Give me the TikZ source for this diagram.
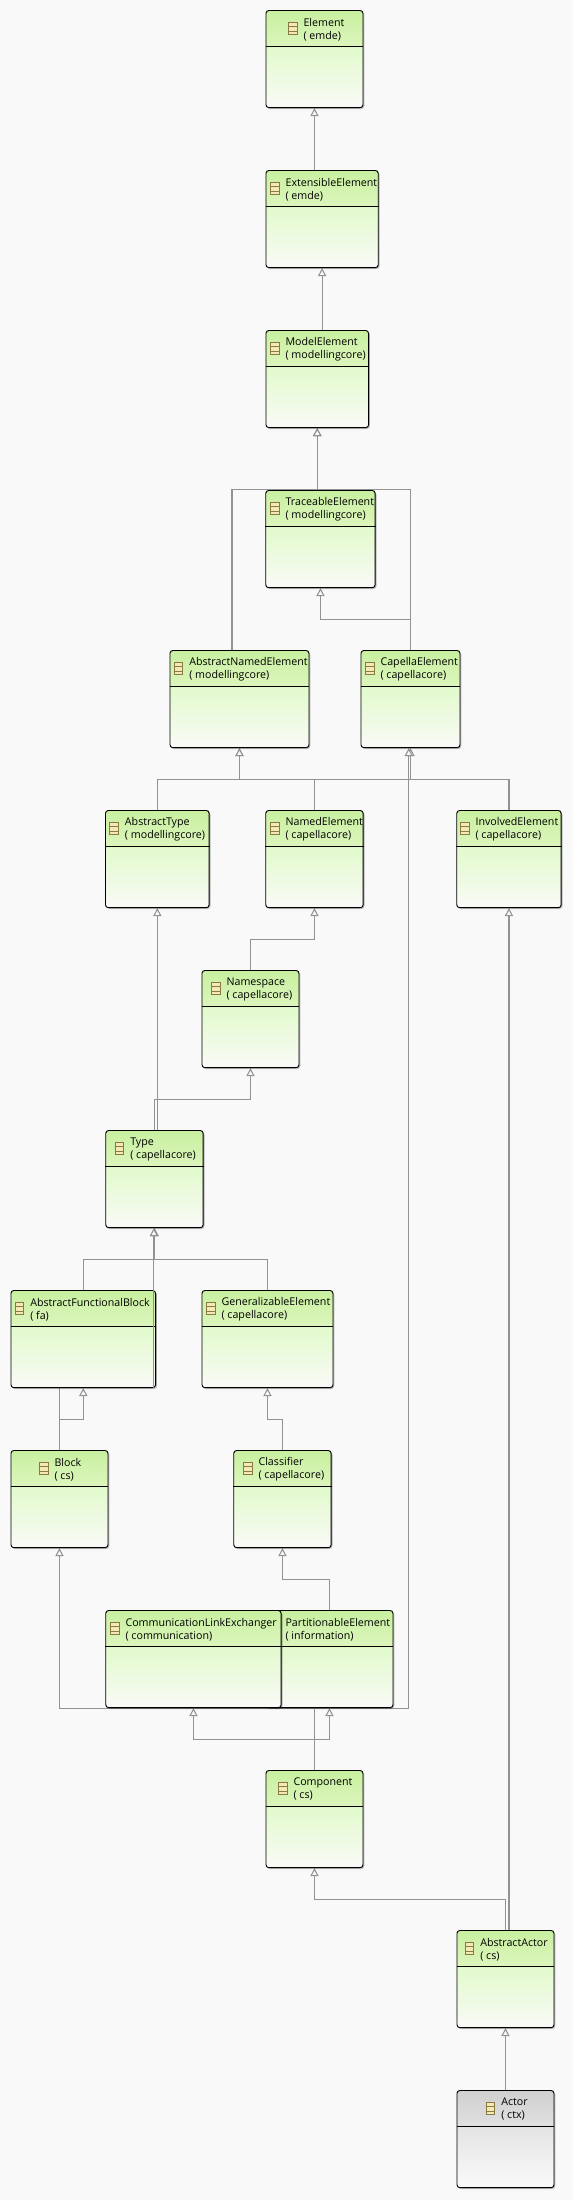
\documentclass[tikz,border=0pt]{standalone}
\usepackage{fontspec}
\setmainfont{Open Sans}
\usepackage{xcolor}
\usepackage{tikz}
\usetikzlibrary{arrows.meta,calc,shadows,backgrounds}
\definecolor{colorBg}{HTML}{F9F9F9}
\definecolor{colorLine}{HTML}{929292}
\definecolor{colorIcon}{HTML}{8C7A45}
\definecolor{colorIconF}{HTML}{F4E8B4}
\definecolor{colorG1}{HTML}{C8F0A0}
\definecolor{colorG2}{HTML}{DCF5BC}
\definecolor{colorG3}{HTML}{E1FACB}
\definecolor{colorG4}{HTML}{FAFAF8}
\definecolor{colorK1}{HTML}{D0D0D0}
\definecolor{colorK2}{HTML}{E0E0E0}
\definecolor{colorK3}{HTML}{E4E4E4}
\definecolor{colorK4}{HTML}{FAFAFA}
\pgfdeclareverticalshading{classgreen}{100bp}{color(0bp)=(colorG4);color(25bp)=(colorG4);color(56.4bp)=(colorG3);color(56.6bp)=(colorG2);color(75bp)=(colorG1);color(100bp)=(colorG1)}
\pgfdeclareverticalshading{classgrey}{100bp}{color(0bp)=(colorK4);color(25bp)=(colorK4);color(56.4bp)=(colorK3);color(56.6bp)=(colorK2);color(75bp)=(colorK1);color(100bp)=(colorK1)}
\tikzstyle{line}=[draw=colorLine, line width=0.8pt, -{Triangle[fill=colorBg,length=6pt,width=6.2pt]}]
\tikzstyle{plain}=[draw=colorLine, line width=0.8pt]
\tikzstyle{block}=[draw=black, line width=0.7pt, rounded corners=2.2pt, shading=classgreen, inner sep=0pt, anchor=north west, minimum height=72.9pt,
  drop shadow={shadow xshift=1pt, shadow yshift=-1pt, opacity=.25, fill=black}]
\tikzstyle{blockgrey}=[block, shading=classgrey]
\tikzstyle{sep}=[draw=black, line width=0.6pt]
\tikzstyle{icon}=[draw=colorIcon, fill=colorIconF, line width=0.7pt, inner sep=0pt, minimum width=6.6pt, minimum height=9pt]
\tikzstyle{iconsep}=[draw=colorIcon, line width=0.6pt]
\tikzstyle{lab}=[anchor=west, align=left, inner sep=0pt, font={\fontsize{8pt}{9.75pt}\selectfont}]
% style, name, left, top, width, left of text, title, package
\newcommand{\classbox}[8][block]{
  \node[#1,minimum width={#5*0.75pt}] (#2) at (#3,#4) {};
  \draw[sep] ($(#2.north west)+(0,36)$) -- ($(#2.north east)+(0,36)$);
  \node[icon] (#2_i) at ({#6-10.5},{#4+18.7}) {};
  \draw[iconsep] ($(#2_i.north west)!.33!(#2_i.south west)$) -- ($(#2_i.north east)!.33!(#2_i.south east)$);
  \draw[iconsep] ($(#2_i.north west)!.67!(#2_i.south west)$) -- ($(#2_i.north east)!.67!(#2_i.south east)$);
  \node[lab] (#2_t) at (#6,{#4+19.4}) {#7\\( #8)};
}
\begin{document}
\begin{tikzpicture}[x=0.75pt,y=-0.75pt]
\useasboundingbox (0,0) rectangle (573,2200);

\classbox{element}{265.5}{10}{97}{303.3}{Element}{emde}
\classbox{extensible}{265.5}{170}{112.3}{285.3}{ExtensibleElement}{emde}
\classbox{model}{265.5}{330}{102.6}{285.3}{ModelElement}{modellingcore}
\classbox{traceable}{265.3}{490}{109.4}{285.3}{TraceableElement}{modellingcore}
\classbox{anelem}{169.5}{650}{139}{189}{AbstractNamedElement}{modellingcore}
\classbox{capella}{360.5}{650}{99}{380.3}{CapellaElement}{capellacore}
\classbox{abstype}{105}{810}{103.7}{124.7}{AbstractType}{modellingcore}
\classbox{named}{265.3}{810}{97.4}{285.3}{NamedElement}{capellacore}
\classbox{involved}{456.3}{810}{104.4}{475.3}{InvolvedElement}{capellacore}
\classbox{namespace}{201.5}{970}{97}{226.3}{Namespace}{capellacore}
\classbox{type}{105.3}{1130}{97.4}{130}{Type}{capellacore}
\classbox{afb}{10.5}{1290}{144.6}{30}{AbstractFunctionalBlock}{fa}
\classbox{general}{201.5}{1290}{131}{221.3}{GeneralizableElement}{capellacore}
\classbox{blockc}{10.5}{1450}{97}{54.3}{Block}{cs}
\classbox{classifier}{233.3}{1450}{97.4}{258.3}{Classifier}{capellacore}
\classbox{partition}{265.5}{1610}{127}{285.3}{PartitionableElement}{information}
\classbox{commlink}{105.3}{1610}{175.4}{125.3}{CommunicationLinkExchanger}{communication}
\classbox{component}{265.5}{1770}{97}{293.3}{Component}{cs}
\classbox{absactor}{456.5}{1930}{97}{480}{AbstractActor}{cs}
\classbox[blockgrey]{actor}{456.5}{2090}{97}{501}{Actor}{ctx}

\begin{scope}[on background layer]
\fill[colorBg] (0,0) rectangle (573,2200);

\draw[line] (element.south |- extensible.north) -- (element.south);
\draw[line] (extensible.south |- model.north) -- (extensible.south);
\draw[line] (model.south |- traceable.north) -- (model.south);
\draw[line] ([shift={(-7.5,0)}]anelem.north) -- ++(0,-160.7) -| (model.south);
\draw[line] (capella.north) -- ++(0,-160.7) -| (model.south);
\draw[line] (capella.north) -- ++(0,-30.7) -| (traceable.south);

\draw[line] (abstype.north) -- ++(0,-30.7) -| (anelem.south);
\draw[line] (named.north) -- ++(0,-30.7) -| (capella.south);
\draw[line] (involved.north) -- ++(0,-30.7) -| (anelem.south);

\draw[line] (namespace.north) -- ++(0,-30.7) -| (named.south);
\draw[line] (type.north) -- ++(0,-30.7) -| (namespace.south);
\draw[line] (abstype.south |- type.north) -- (abstype.south);

\draw[line] (afb.north) -- ++(0,-30.7) -| (type.south);
\draw[line] (general.north) -- ++(0,-30.7) -| (type.south);
\draw[plain] (blockc.north) -- (blockc.north |- afb.south);
\draw[line] (blockc.north) -- ++(0,-30.7) -| (afb.south);
\draw[line] (classifier.north) -- ++(0,-30.7) -| (general.south);
\draw[line] (partition.north) -- ++(0,-30.7) -| (classifier.south);

\draw[line] (component.north) -- ++(0,-30.7) -| (commlink.south);
\draw[line] (component.north) -- ++(0,-30.7) -| (partition.south);
\draw[line] (component.north) -- ++(0,-61.6) -| (blockc.south);
\draw[line] (component.north) -- ++(0,-61.6) -| ([shift={(-1.7,0)}]capella.south);

\draw[line] (absactor.north) -- ++(0,-30.7) -| (component.south);
\draw[line] (involved.south |- absactor.north) -- (involved.south);
\draw[line] (actor.north) -- (absactor.south);
\end{scope}

%%% over the box
\draw[line] ([shift={(-0.6,0)}]type.south |- afb.south) -- ([shift={(-0.6,0)}]type.south);

\end{tikzpicture}
\end{document}
